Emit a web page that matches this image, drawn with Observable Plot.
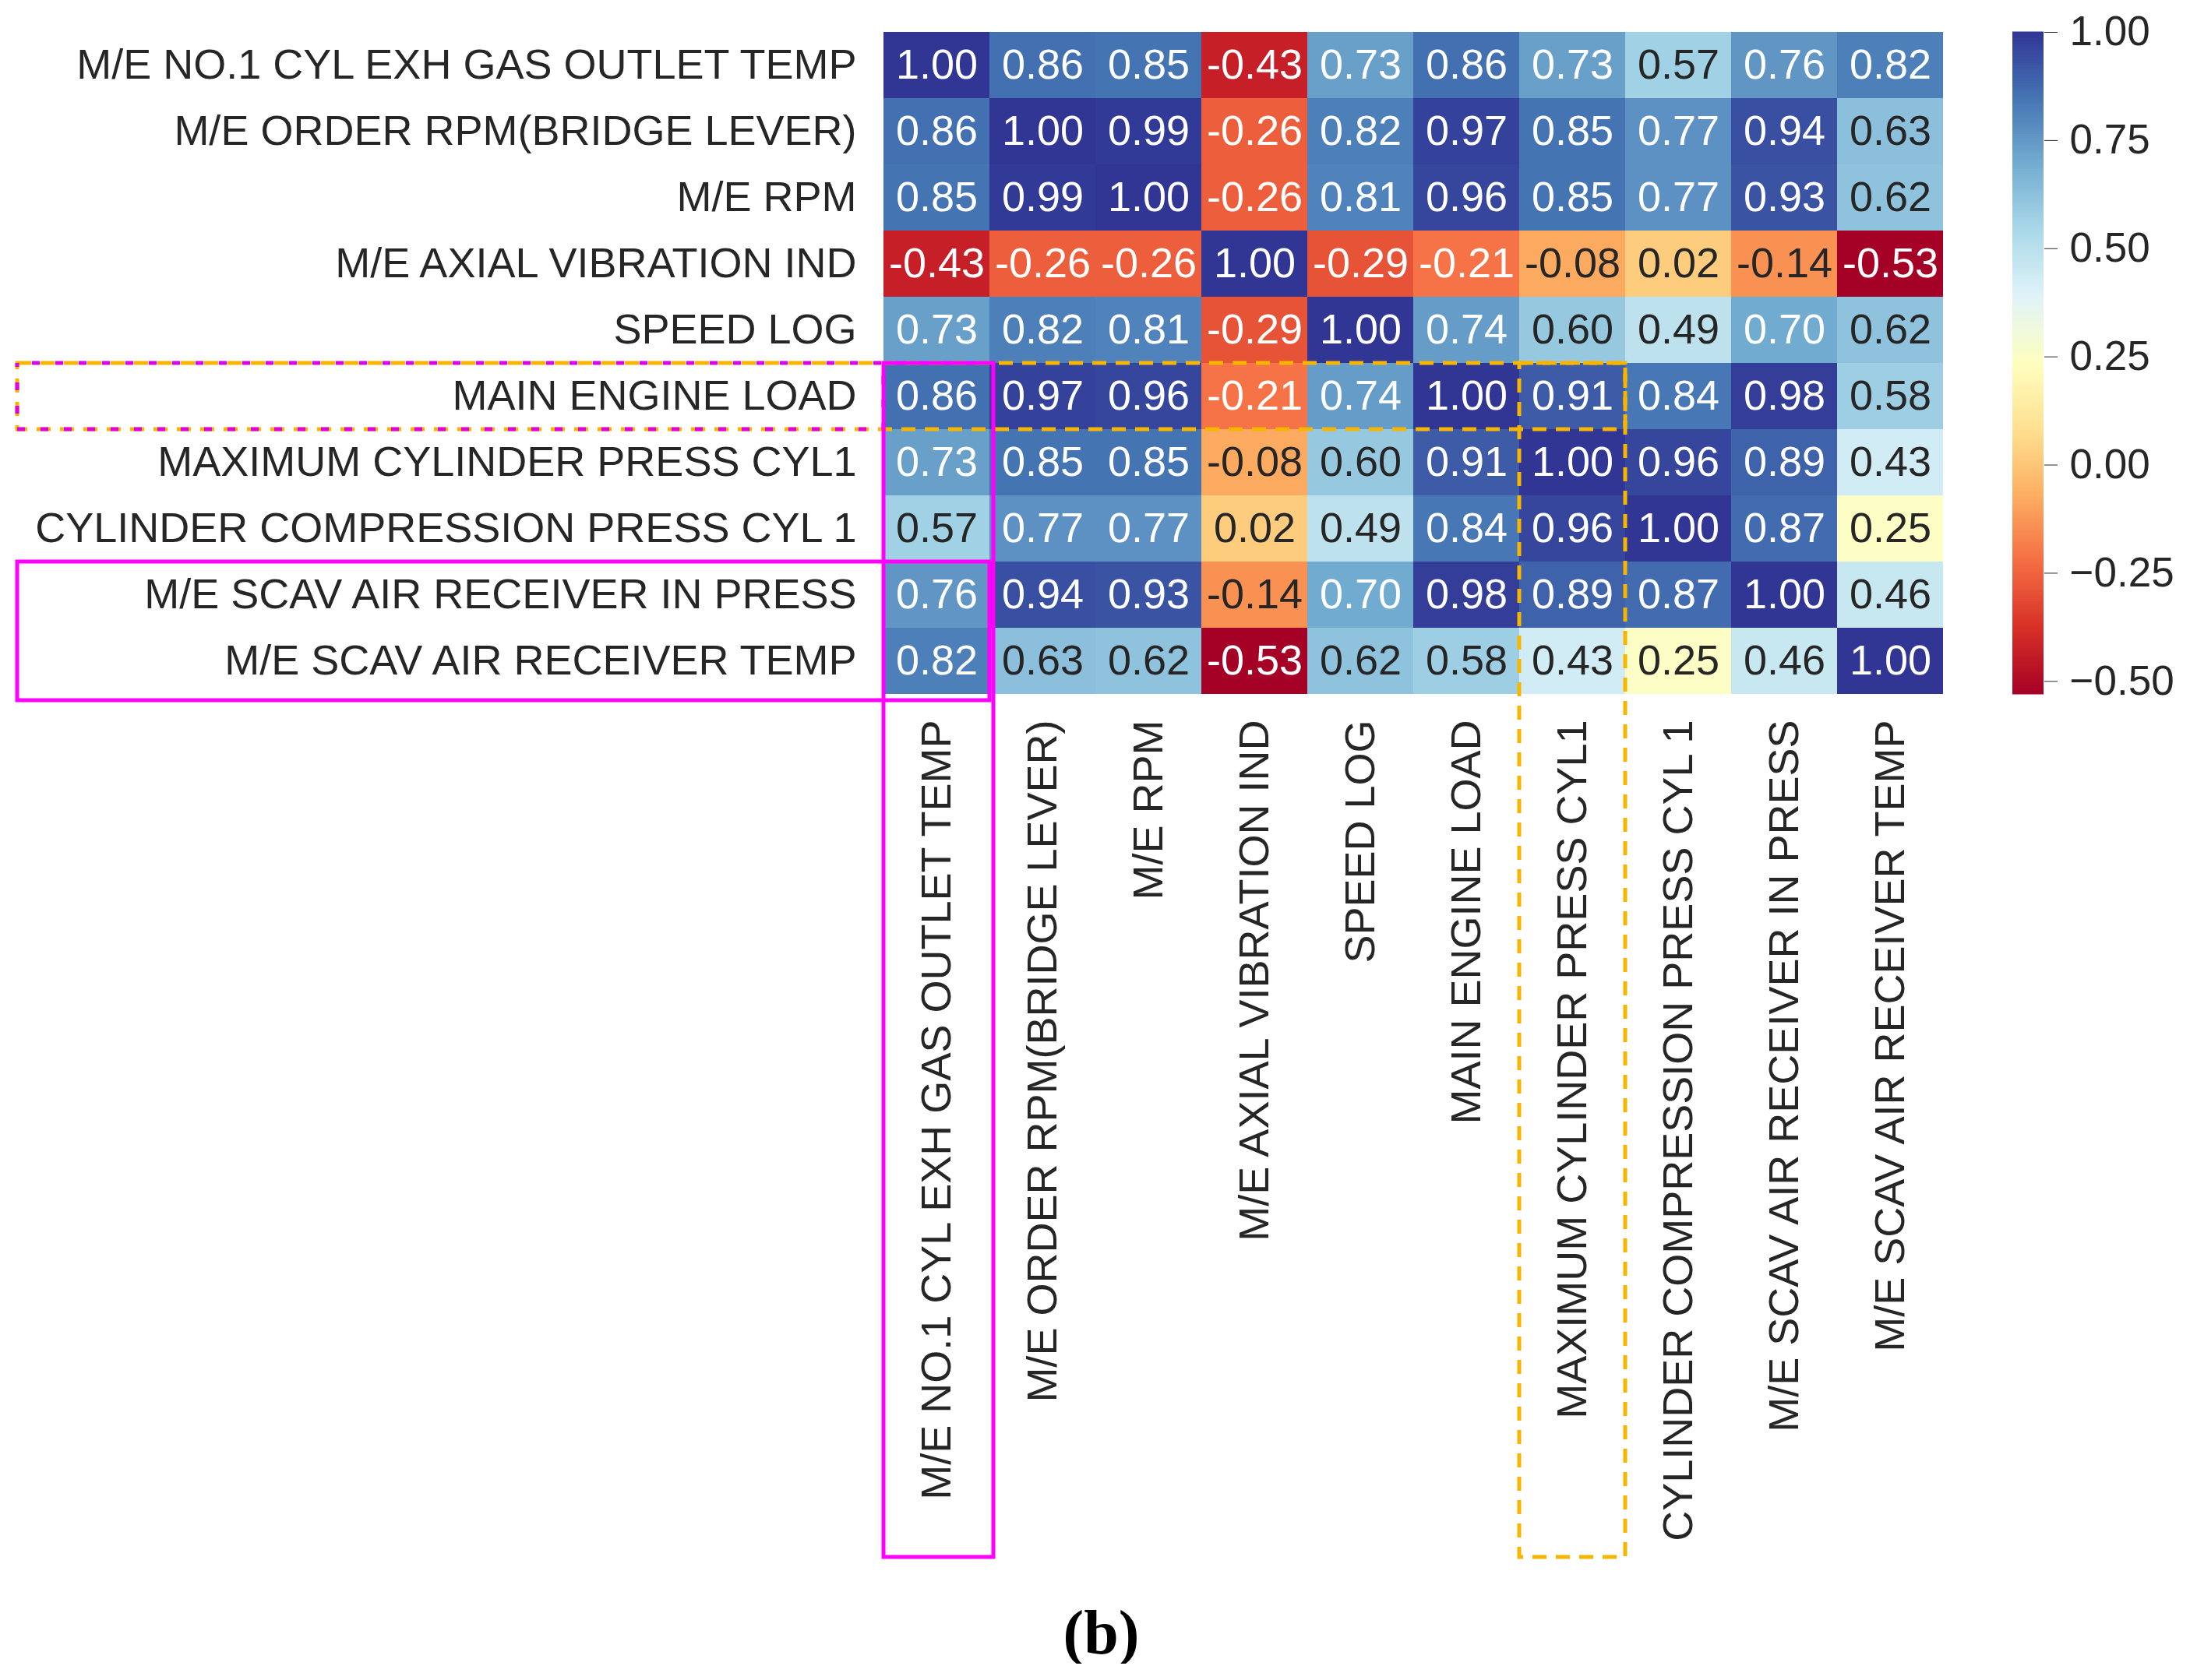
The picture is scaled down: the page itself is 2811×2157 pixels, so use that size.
<!DOCTYPE html>
<html>
<head>
<meta charset="utf-8">
<script src="https://cdn.jsdelivr.net/npm/d3@7"></script>
<script src="https://cdn.jsdelivr.net/npm/@observablehq/plot@0.6"></script>
<style>
  html, body { margin: 0; padding: 0; background: #ffffff; }
  #wrap { position: relative; width: 2811px; }
  #cbar { position: absolute; left: 2583px; top: 0px; }
  #caption { width: 2811px; text-align: center; padding-left: 16px; box-sizing: border-box;
    font-family: "Liberation Serif", "Times New Roman", serif; font-weight: bold;
    font-size: 80px; line-height: 80px; height: 80px; margin-top: 16px; color: #000; }
</style>
</head>
<body>
<div id="wrap">
  <div id="main"></div>
  <div id="cbar"></div>
  <div id="caption">(b)</div>
</div>
<script>
// ---- categories (rows and columns share the same order) ----
const labels = [
  "M/E NO.1 CYL EXH GAS OUTLET TEMP",
  "M/E ORDER RPM(BRIDGE LEVER)",
  "M/E RPM",
  "M/E AXIAL VIBRATION IND",
  "SPEED LOG",
  "MAIN ENGINE LOAD",
  "MAXIMUM CYLINDER PRESS CYL1",
  "CYLINDER COMPRESSION PRESS CYL 1",
  "M/E SCAV AIR RECEIVER IN PRESS",
  "M/E SCAV AIR RECEIVER TEMP"
];

// ---- correlation values, one array per row ----
const exhGasTemp   = [1.00, 0.86, 0.85, -0.43, 0.73, 0.86, 0.73, 0.57, 0.76, 0.82];
const orderRpm     = [0.86, 1.00, 0.99, -0.26, 0.82, 0.97, 0.85, 0.77, 0.94, 0.63];
const meRpm        = [0.85, 0.99, 1.00, -0.26, 0.81, 0.96, 0.85, 0.77, 0.93, 0.62];
const axialVib     = [-0.43, -0.26, -0.26, 1.00, -0.29, -0.21, -0.08, 0.02, -0.14, -0.53];
const speedLog     = [0.73, 0.82, 0.81, -0.29, 1.00, 0.74, 0.60, 0.49, 0.70, 0.62];
const engineLoad   = [0.86, 0.97, 0.96, -0.21, 0.74, 1.00, 0.91, 0.84, 0.98, 0.58];
const maxCylPress  = [0.73, 0.85, 0.85, -0.08, 0.60, 0.91, 1.00, 0.96, 0.89, 0.43];
const compPress    = [0.57, 0.77, 0.77, 0.02, 0.49, 0.84, 0.96, 1.00, 0.87, 0.25];
const scavPress    = [0.76, 0.94, 0.93, -0.14, 0.70, 0.98, 0.89, 0.87, 1.00, 0.46];
const scavTemp     = [0.82, 0.63, 0.62, -0.53, 0.62, 0.58, 0.43, 0.25, 0.46, 1.00];

// ---- colorbar tick values ----
const cbarTicks = [-0.50, -0.25, 0.00, 0.25, 0.50, 0.75, 1.00];

// ---- build table ----
const rowArrays = [exhGasTemp, orderRpm, meRpm, axialVib, speedLog, engineLoad, maxCylPress, compPress, scavPress, scavTemp];
const table = labels.flatMap((r, i) => labels.map((c, j) => ({row: r, col: c, value: rowArrays[i][j]})));
const vmin = d3.min(table, d => d.value);
const vmax = d3.max(table, d => d.value);

// matplotlib RdYlBu (piecewise linear)
const rdylbu = ["#a50026","#d73027","#f46d43","#fdae61","#fee090","#ffffbf","#e0f3f8","#abd9e9","#74add1","#4575b4","#313695"];
const interp = d3.piecewise(d3.interpolateRgb, rdylbu);
const colorScale = {type: "linear", domain: [vmin, vmax], interpolate: interp};

function relLum(c) {
  const {r, g, b} = d3.rgb(c);
  const f = v => { v /= 255; return v <= 0.03928 ? v / 12.92 : Math.pow((v + 0.055) / 1.055, 2.4); };
  return 0.2126 * f(r) + 0.7152 * f(g) + 0.0722 * f(b);
}
const isLight = d => relLum(interp((d.value - vmin) / (vmax - vmin))) > 0.408;

const FONT = "'Liberation Sans', Arial, sans-serif";
const TXT = "#262626";
const FS = 54;

const W = 2811, H = 2040;
const chart = Plot.plot({
  width: W,
  height: H,
  marginLeft: 1131,
  marginRight: 314,
  marginTop: 41,
  marginBottom: H - 891,
  style: {fontFamily: FONT, fontSize: FS + "px", color: TXT, background: "transparent", overflow: "visible"},
  x: {domain: labels, padding: 0, label: null},
  y: {domain: labels, padding: 0, label: null},
  color: colorScale,
  marks: [
    Plot.cell(table, {x: "col", y: "row", fill: "value"}),
    Plot.text(table, {x: "col", y: "row", text: d => d.value.toFixed(2), fill: TXT, fontSize: FS, filter: d => isLight(d)}),
    Plot.text(table, {x: "col", y: "row", text: d => d.value.toFixed(2), fill: "#ffffff", fontSize: FS, filter: d => !isLight(d)}),
    Plot.axisY({tickSize: 0, tickPadding: 32, fontSize: FS, label: null}),
    Plot.axisX({tickSize: 0, tickPadding: 33, tickRotate: -90, fontSize: FS, label: null})
  ]
});
document.getElementById("main").appendChild(chart);

// ---- highlight boxes drawn through the chart's scales ----
const xs = chart.scale("x"), ys = chart.scale("y");
const bw = xs.bandwidth, bh = ys.bandwidth;
const X = v => xs.apply(v), Y = v => ys.apply(v);
const svg = d3.select(chart);
const g = svg.append("g").attr("fill", "none");
const labelLeft = 22, boxBottom = 1999;
const cFirst = labels[0], cMax = labels[6], rLoad = labels[5], rScavP = labels[8], rScavT = labels[9];

// orange dashed: MAIN ENGINE LOAD row band and MAXIMUM CYLINDER PRESS column band
const orange = "#f7b500";
g.append("rect").attr("x", labelLeft).attr("y", Y(rLoad)).attr("width", X(cMax) + bw - labelLeft).attr("height", bh)
  .attr("stroke", orange).attr("stroke-width", 5).attr("stroke-dasharray", "18 12");
g.append("rect").attr("x", X(cMax)).attr("y", Y(rLoad)).attr("width", bw).attr("height", boxBottom - Y(rLoad))
  .attr("stroke", orange).attr("stroke-width", 5).attr("stroke-dasharray", "18 12");
// magenta dashed around the MAIN ENGINE LOAD label, interleaved with the orange dashes
g.append("rect").attr("x", labelLeft).attr("y", Y(rLoad)).attr("width", X(cFirst) - labelLeft).attr("height", bh)
  .attr("stroke", "#e000e8").attr("stroke-width", 5).attr("stroke-dasharray", "10 20").attr("stroke-dashoffset", -19);
// magenta solid: first column band
g.append("rect").attr("x", X(cFirst)).attr("y", Y(rLoad)).attr("width", bw + 5).attr("height", boxBottom - Y(rLoad))
  .attr("stroke", "#ff00ff").attr("stroke-width", 5);
// magenta solid: SCAV AIR rows
g.append("rect").attr("x", labelLeft).attr("y", Y(rScavP)).attr("width", X(cFirst) + bw - labelLeft).attr("height", Y(rScavT) + bh + 8 - Y(rScavP))
  .attr("stroke", "#ff00ff").attr("stroke-width", 5);

// ---- colorbar ----
const nSteps = 300;
const ramp = d3.range(nSteps).map(i => {
  const a = vmin + (vmax - vmin) * i / nSteps, b = vmin + (vmax - vmin) * (i + 1) / nSteps;
  return {y1: a, y2: b, v: (a + b) / 2};
});
const cbar = Plot.plot({
  width: 228,
  height: 930,
  marginLeft: 0,
  marginRight: 188,
  marginTop: 41,
  marginBottom: 39,
  style: {fontFamily: FONT, fontSize: "53px", color: TXT, background: "transparent", overflow: "visible"},
  x: {domain: [0, 1], axis: null},
  y: {domain: [vmin, vmax], axis: null},
  color: colorScale,
  marks: [
    Plot.rect(ramp, {x1: () => 0, x2: () => 1, y1: "y1", y2: "y2", fill: "v", insetTop: -0.5, insetBottom: -0.5}),
    Plot.axisY({anchor: "right", ticks: cbarTicks, tickFormat: d3.format(".2f"), tickSize: 17, tickPadding: 16, fontSize: 53, label: null})
  ]
});
document.getElementById("cbar").appendChild(cbar);
</script>
</body>
</html>
